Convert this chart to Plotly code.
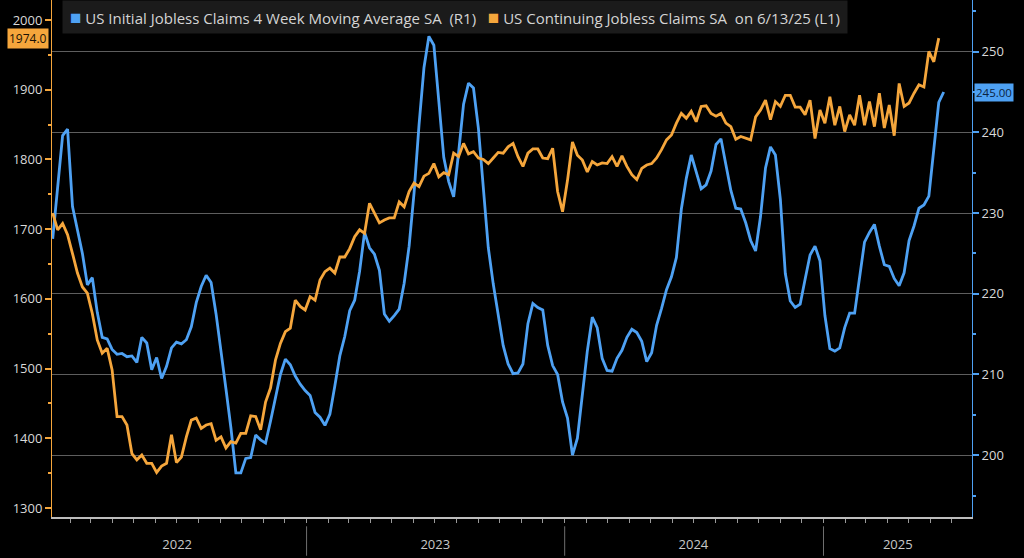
import pandas as pd
import plotly.graph_objects as go

# ---------------- data (weekly) ----------------
# US Initial Jobless Claims 4 Week Moving Average SA (thousands) - right axis
initial_claims_4wk = [
    226.8, 233.3, 239.6, 240.4, 230.8, 227.9, 225.0, 221.1, 222.0, 217.7,
    214.6, 214.4, 213.1, 212.5, 212.6, 212.2, 212.3, 211.5, 214.6, 213.9,
    210.6, 212.1, 209.5, 211.0, 213.3, 214.0, 213.8, 214.3, 215.9, 218.9,
    220.9, 222.3, 221.4, 217.5, 212.5, 208.2, 203.4, 197.8, 197.8, 199.6,
    199.7, 202.5, 201.9, 201.5, 204.2, 207.2, 210.0, 211.9, 211.2, 209.8,
    208.8, 208.0, 207.4, 205.3, 204.7, 203.7, 205.1, 208.6, 212.3, 214.7,
    217.9, 219.2, 222.8, 227.6, 225.7, 224.9, 222.9, 217.5, 216.6, 217.3,
    218.1, 221.3, 225.9, 232.5, 240.9, 248.0, 251.9, 250.8, 243.5, 236.9,
    233.9, 232.0, 237.5, 243.5, 246.1, 245.5, 240.5, 233.5, 225.7, 221.2,
    217.2, 213.6, 211.3, 210.1, 210.2, 211.3, 216.3, 218.8, 218.3, 218.0,
    213.6, 211.1, 210.0, 206.6, 204.6, 200.0, 202.1, 207.8, 212.9, 217.1,
    215.8, 212.0, 210.5, 210.4, 212.0, 213.0, 214.6, 215.6, 215.2, 214.1,
    211.6, 212.7, 216.1, 218.2, 220.5, 222.1, 224.5, 230.5, 234.3, 237.2,
    235.0, 233.0, 233.5, 235.2, 238.5, 239.2, 236.0, 232.8, 230.6, 230.5,
    228.8, 226.6, 225.3, 229.6, 235.6, 238.2, 237.2, 231.7, 222.5, 219.1,
    218.3, 218.7, 221.8, 224.8, 225.9, 224.1, 217.3, 213.2, 212.9, 213.3,
    215.8, 217.6, 217.6, 222.2, 226.4, 227.6, 228.6, 225.9, 223.6, 223.4,
    221.9, 221.0, 222.6, 226.6, 228.4, 230.6, 231.0, 232.1, 238.1, 243.7,
    245.0,
]

# US Continuing Jobless Claims SA (thousands) - left axis
continuing_claims = [
    1723, 1699, 1708, 1692, 1665, 1637, 1617, 1608, 1579, 1541,
    1522, 1529, 1498, 1431, 1431, 1419, 1378, 1369, 1376, 1364,
    1364, 1351, 1360, 1364, 1405, 1365, 1373, 1402, 1426, 1429,
    1414, 1419, 1421, 1397, 1402, 1386, 1395, 1393, 1407, 1407,
    1432, 1431, 1412, 1452, 1472, 1512, 1536, 1553, 1558, 1598,
    1589, 1584, 1603, 1598, 1627, 1639, 1644, 1637, 1660, 1660,
    1672, 1689, 1699, 1694, 1737, 1723, 1709, 1713, 1716, 1716,
    1739, 1732, 1754, 1766, 1761, 1776, 1780, 1794, 1775, 1781,
    1778, 1809, 1804, 1823, 1808, 1811, 1802, 1800, 1794, 1802,
    1810, 1809, 1818, 1823, 1804, 1790, 1809, 1815, 1815, 1802,
    1801, 1816, 1754, 1725, 1770, 1825, 1806, 1799, 1782, 1797,
    1792, 1795, 1794, 1804, 1790, 1805, 1790, 1778, 1771, 1787,
    1792, 1794, 1802, 1814, 1828, 1835, 1852, 1866, 1859, 1869,
    1854, 1876, 1877, 1866, 1862, 1866, 1852, 1847, 1829, 1833,
    1830, 1828, 1861, 1871, 1885, 1857, 1883, 1876, 1892, 1892,
    1875, 1875, 1864, 1885, 1830, 1871, 1852, 1890, 1849, 1876,
    1840, 1864, 1849, 1892, 1849, 1883, 1847, 1895, 1845, 1878,
    1834, 1909, 1876, 1881, 1895, 1907, 1904, 1955, 1940, 1974.0,
]

first_week = "2022-01-07"
initial_dates = pd.date_range(first_week, periods=len(initial_claims_4wk), freq="7D")
continuing_dates = pd.date_range(first_week, periods=len(continuing_claims), freq="7D")

year_labels = ["2022", "2023", "2024", "2025"]
year_label_dates = ["2022-07-02", "2023-07-02", "2024-07-01", "2025-04-16"]
year_starts = ["2023-01-01", "2024-01-01", "2025-01-01"]

initial_name = "US Initial Jobless Claims 4 Week Moving Average SA\u00a0\u00a0(R1)"
continuing_name = "US Continuing Jobless Claims SA\u00a0\u00a0on 6/13/25 (L1)"

BLUE = "#4ea1f3"
ORANGE = "#f5a63c"
FONT = "Open Sans"

fig = go.Figure()
fig.add_trace(go.Scatter(
    x=initial_dates, y=initial_claims_4wk, name=initial_name, mode="lines",
    line=dict(color=BLUE, width=2.8), yaxis="y",
))
fig.add_trace(go.Scatter(
    x=continuing_dates, y=continuing_claims, name=continuing_name, mode="lines",
    line=dict(color=ORANGE, width=2.8), yaxis="y2",
))

shapes = []
for d in year_starts:
    shapes.append(dict(type="line", xref="x", yref="paper", x0=d, x1=d,
                       y0=-0.018, y1=-0.075, line=dict(color="#6e6e6e", width=1)))

sq = "<span style='font-size:19px;color:{c}'>■</span>"
annotations = [
    dict(xref="paper", yref="paper", x=0.011, y=1.0, xanchor="left", yanchor="top",
         showarrow=False, bgcolor="#1b1b1b", borderpad=3, align="left",
         font=dict(family=FONT, size=15, color="#d4d4d4"),
         text=("\u00a0" + sq.format(c=BLUE) + f" {initial_name}\u00a0\u00a0\u00a0"
               + sq.format(c=ORANGE) + f" {continuing_name}\u00a0")),
    dict(xref="paper", yref="y2", x=0, y=continuing_claims[-1], xanchor="right",
         yanchor="middle", xshift=-3, showarrow=False, bgcolor=ORANGE, borderpad=1,
         font=dict(family=FONT, size=12, color="#1a1206"),
         text=f"{continuing_claims[-1]:.1f}"),
    dict(xref="paper", yref="y", x=1, y=initial_claims_4wk[-1], xanchor="left",
         yanchor="middle", xshift=2, showarrow=False, bgcolor=BLUE, borderpad=1,
         font=dict(family=FONT, size=11.5, color="#0b2340"),
         text=f"{initial_claims_4wk[-1]:.2f}"),
]

fig.update_layout(
    width=1024, height=558,
    paper_bgcolor="#000000", plot_bgcolor="#000000",
    margin=dict(l=52, r=52, t=0, b=41, autoexpand=False),
    showlegend=False,
    font=dict(family=FONT, color="#d9d9d9", size=12),
    xaxis=dict(
        type="date", range=["2022-01-06", "2025-07-30"], automargin=False,
        showgrid=False, zeroline=False,
        showline=True, linecolor="#bdbdbd", linewidth=1.5,
        tickmode="array", tickvals=year_label_dates, ticktext=year_labels,
        ticks="", ticklabelstandoff=15,
        tickfont=dict(family=FONT, size=13, color="#c8c8c8"),
        minor=dict(dtick="M1", tick0="2022-01-01", ticks="outside", ticklen=4,
                   tickcolor="#9a9a9a", showgrid=False),
    ),
    yaxis=dict(
        side="right", range=[192.34, 256.4], automargin=False,
        tick0=200, dtick=10, showgrid=True, gridcolor="#5e5e5e", gridwidth=1,
        zeroline=False, showline=True, linecolor=BLUE, linewidth=1,
        ticks="outside", ticklen=6, tickcolor=BLUE, tickwidth=2,
        tickfont=dict(family=FONT, size=13, color="#d9d9d9"),
        minor=dict(tick0=195, dtick=10, ticks="outside", ticklen=3, tickcolor=BLUE, showgrid=False),
    ),
    yaxis2=dict(
        overlaying="y", side="left", range=[1287, 2028.7], automargin=False,
        tick0=1300, dtick=100, showgrid=False, zeroline=False,
        showline=True, linecolor=ORANGE, linewidth=1,
        ticks="outside", ticklen=6, tickcolor=ORANGE, tickwidth=2,
        tickfont=dict(family=FONT, size=13, color="#d9d9d9"),
        minor=dict(tick0=1250, dtick=100, ticks="outside", ticklen=3, tickcolor=ORANGE, showgrid=False),
    ),
    shapes=shapes,
    annotations=annotations,
)

fig.write_html(
    "out.html",
    config={"displayModeBar": False},
    post_script="document.body.style.margin='0';document.body.style.background='#000';",
)
